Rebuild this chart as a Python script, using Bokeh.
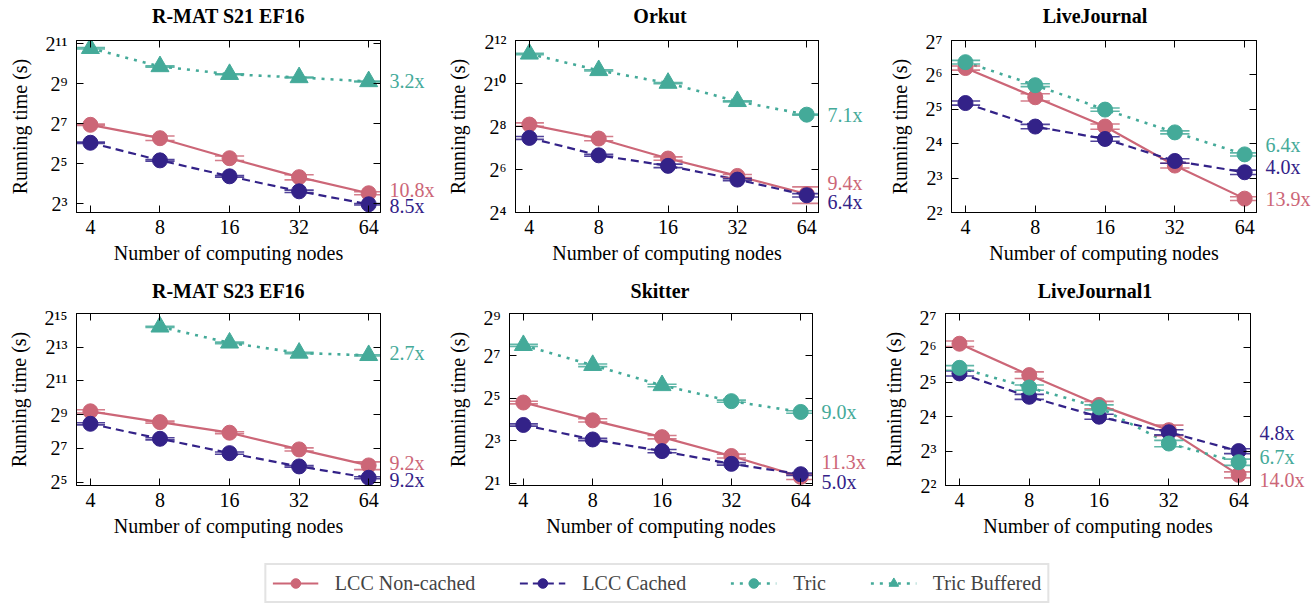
import math
from bokeh.plotting import figure
from bokeh.models import (Range1d, FixedTicker, LogAxis, Label, Legend, LegendItem,
                          CustomJSTickFormatter, ColumnDataSource)
from bokeh.layouts import column, row
from bokeh.embed import file_html
from bokeh.resources import INLINE

# ---------------------------------------------------------------- data
nodes = [4, 8, 16, 32, 64]
series_names = ["LCC Non-cached", "LCC Cached", "Tric", "Tric Buffered"]

# R-MAT S21 EF16 (running time, s)
rmat21_lcc_noncached = [123.6, 77.7, 38.8, 20.1, 11.5]
rmat21_lcc_noncached_err = [3.0, 6.0, 3.0, 1.8, 0.6]
rmat21_lcc_cached = [66.3, 36.0, 20.7, 12.3, 7.84]
rmat21_lcc_cached_err = [1.5, 1.0, 0.6, 0.5, 0.2]
rmat21_tric = [None, None, None, None, None]
rmat21_tric_err = [None, None, None, None, None]
rmat21_tric_buffered = [1758, 936, 714, 639, 556]
rmat21_tric_buffered_err = [40, 20, 10, 10, 8]
rmat21_yticks = [3, 5, 7, 9, 11]
rmat21_speedups = ["10.8x", "8.5x", "3.2x"]

# Orkut
orkut_lcc_noncached = [272.5, 173.7, 91.1, 52.0, 29.0]
orkut_lcc_noncached_err = [15, 12, 5, 2.5, 7.5]
orkut_lcc_cached = [177.3, 101.1, 72.0, 46.2, 27.9]
orkut_lcc_cached_err = [8, 3, 4, 1.5, 1.5]
orkut_tric = [None, None, None, None, 375]
orkut_tric_err = [None, None, None, None, 6]
orkut_tric_buffered = [2660, 1563, 1038, 576, None]
orkut_tric_buffered_err = [60, 30, 20, 10, None]
orkut_yticks = [4, 6, 8, 10, 12]
orkut_speedups = ["9.4x", "6.4x", "7.1x"]

# LiveJournal
lj_lcc_noncached = [73.5, 40.8, 22.6, 10.3, 5.29]
lj_lcc_noncached_err = [3, 3, 1.2, 0.5, 0.2]
lj_lcc_cached = [36.3, 22.6, 17.6, 11.3, 9.0]
lj_lcc_cached_err = [1.5, 1.0, 0.8, 0.5, 0.4]
lj_tric = [82.7, 52.0, 31.8, 20.1, 12.9]
lj_tric_err = [3, 1.5, 1.0, 0.6, 0.4]
lj_tric_buffered = [None, None, None, None, None]
lj_tric_buffered_err = [None, None, None, None, None]
lj_yticks = [2, 3, 4, 5, 6, 7]
lj_speedups = ["13.9x", "4.0x", "6.4x"]

# R-MAT S23 EF16
rmat23_lcc_noncached = [588, 377, 244, 122.8, 63.6]
rmat23_lcc_noncached_err = [40, 15, 10, 8, 10]
rmat23_lcc_cached = [352, 190, 105.4, 61.0, 38.3]
rmat23_lcc_cached_err = [15, 8, 5, 2, 1.5]
rmat23_tric = [None, None, None, None, None]
rmat23_tric_err = [None, None, None, None, None]
rmat23_tric_buffered = [None, 18950, 9810, 6470, 5870]
rmat23_tric_buffered_err = [None, 500, 300, 200, 150]
rmat23_yticks = [5, 7, 9, 11, 13, 15]
rmat23_speedups = ["9.2x", "9.2x", "2.7x"]

# Skitter
skitter_lcc_noncached = [27.9, 15.6, 9.0, 4.86, 2.46]
skitter_lcc_noncached_err = [1.2, 0.8, 0.5, 0.3, 0.2]
skitter_lcc_cached = [13.4, 8.34, 5.70, 3.76, 2.68]
skitter_lcc_cached_err = [0.5, 0.3, 0.3, 0.15, 0.1]
skitter_tric = [None, None, None, 29.2, 20.5]
skitter_tric_err = [None, None, None, 1.0, 0.8]
skitter_tric_buffered = [181, 94.3, 48.8, None, None]
skitter_tric_buffered_err = [6, 4, 2, None, None]
skitter_yticks = [1, 3, 5, 7, 9]
skitter_speedups = ["11.3x", "5.0x", "9.0x"]

# LiveJournal1
lj1_lcc_noncached = [69.6, 37.0, 20.3, 12.2, 4.96]
lj1_lcc_noncached_err = [4, 2.5, 1.5, 1.3, 0.3]
lj1_lcc_cached = [38.3, 23.9, 16.0, 11.7, 8.0]
lj1_lcc_cached_err = [2, 1.2, 0.8, 0.6, 0.4]
lj1_tric = [42.8, 28.8, 19.3, 9.32, 6.4]
lj1_tric_err = [2, 1.5, 1.0, 0.6, 0.4]
lj1_tric_buffered = [None, None, None, None, None]
lj1_tric_buffered_err = [None, None, None, None, None]
lj1_yticks = [2, 3, 4, 5, 6, 7]
lj1_speedups = ["14.0x", "4.8x", "6.7x"]

# ---------------------------------------------------------------- style
PINK, BLUE, TEAL = "#CC6677", "#332288", "#44AA99"
FONT = "Liberation Serif"
FS = "20px"
XLO, XHI = 2 ** 1.8, 2 ** 6.17
CAP = 2 ** 0.21
FH = 172          # frame height of every panel
EXT = 22          # extra room below for the speed-up labels

SUP_JS = r"""
const sup = {"0":"\u2070","1":"\u00b9","2":"\u00b2","3":"\u00b3","4":"\u2074",
             "5":"\u2075","6":"\u2076","7":"\u2077","8":"\u2078","9":"\u2079","-":"\u207b"};
const e = Math.round(Math.log(tick) / Math.LN2);
return "2" + String(e).split("").map(c => sup[c]).join("");
"""


def no_align(fig):
    if "frame_align" in fig.properties():
        fig.frame_align = False


def blank(fig):
    no_align(fig)
    fig.grid.visible = False
    fig.outline_line_color = None
    fig.background_fill_color = "white"
    fig.border_fill_color = "white"


def style_axis(ax):
    ax.axis_line_color = "black"
    ax.major_tick_line_color = "black"
    ax.major_tick_in = 7
    ax.major_tick_out = 0
    ax.minor_tick_line_color = None
    ax.major_label_text_font = FONT
    ax.major_label_text_font_size = FS
    ax.major_label_text_color = "black"
    ax.axis_label_text_font = FONT
    ax.axis_label_text_font_size = FS
    ax.axis_label_text_font_style = "normal"
    ax.axis_label_text_color = "black"


def mirror_axis(ticks):
    ax = LogAxis(ticker=FixedTicker(ticks=ticks))
    style_axis(ax)
    ax.major_label_text_font_size = "0px"
    ax.major_label_text_color = None
    ax.major_label_standoff = 0
    return ax


def add_series(p, ys, errs, color, marker, size):
    pts = [(x, y, e) for x, y, e in zip(nodes, ys, errs) if y is not None]
    if not pts:
        return
    xs = [a for a, _, _ in pts]
    vs = [b for _, b, _ in pts]
    es = [c for _, _, c in pts]
    cap_src = ColumnDataSource(dict(
        x0=[x / CAP for x in xs] * 2, x1=[x * CAP for x in xs] * 2,
        y=[v - e for v, e in zip(vs, es)] + [v + e for v, e in zip(vs, es)]))
    p.segment(x0="x0", y0="y", x1="x1", y1="y", source=cap_src,
              line_color=color, line_width=1.6, line_alpha=0.85)
    p.segment(x0=xs, y0=[v - e for v, e in zip(vs, es)], x1=xs,
              y1=[v + e for v, e in zip(vs, es)], line_color=color, line_width=1.6)
    p.scatter(xs, vs, marker=marker, size=size, fill_color=color, line_color=color)


def title_strip(title, fw, bl, sw, th, tcy):
    # strip above a panel: its frame spans exactly the panel's frame width
    t = figure(frame_width=fw, frame_height=th, min_border_left=bl, min_border_right=1 + sw,
               min_border_top=0, min_border_bottom=0,
               x_range=Range1d(0, 1), y_range=Range1d(0, th),
               x_axis_location=None, y_axis_location=None,
               output_backend="svg", toolbar_location=None, title=None)
    blank(t)
    t.add_layout(Label(x=0.5, y=th - tcy, x_units="data", y_units="data", text=title,
                       text_align="center", text_baseline="middle", text_font=FONT,
                       text_font_size=FS, text_font_style="bold", text_color="black"))
    return t


def panel(nc, nc_err, c, c_err, tr, tr_err, tb, tb_err, yticks, yexp,
          speed, nudge, fw, bl, sw, bt, bb):
    p = figure(frame_width=fw, frame_height=FH,
               min_border_left=bl, min_border_right=1, min_border_top=bt, min_border_bottom=bb,
               x_axis_type="log", y_axis_type="log",
               x_range=Range1d(XLO, XHI), y_range=Range1d(2 ** yexp[0], 2 ** yexp[1]),
               output_backend="svg", toolbar_location=None, title=None)
    no_align(p)
    p.grid.visible = False
    p.outline_line_color = "black"
    p.outline_line_width = 1
    p.background_fill_color = "white"
    p.border_fill_color = "white"

    ytk = [2 ** e for e in yticks]
    xa = p.below[0]
    ya = p.left[0]
    style_axis(xa)
    style_axis(ya)
    xa.ticker = FixedTicker(ticks=nodes)
    xa.formatter = CustomJSTickFormatter(code="return tick.toFixed(0);")
    xa.axis_label = "Number of computing nodes"
    xa.major_label_standoff = 7
    xa.axis_label_standoff = 5
    ya.ticker = FixedTicker(ticks=ytk)
    ya.formatter = CustomJSTickFormatter(code=SUP_JS)
    ya.axis_label = "Running time (s)"
    ya.major_label_standoff = 9
    ya.axis_label_standoff = 12
    p.add_layout(mirror_axis(ytk), "right")
    p.add_layout(mirror_axis(nodes), "above")

    # lines
    p.line(nodes, nc, line_color=PINK, line_width=2.2)
    p.line(nodes, c, line_color=BLUE, line_width=2.2, line_dash="8 5")
    tline = [b if b is not None else (a if a is not None else float("nan"))
             for a, b in zip(tr, tb)]
    p.line(nodes, tline, line_color=TEAL, line_width=2.6, line_dash="3 6")

    add_series(p, nc, nc_err, PINK, "circle", 15)
    add_series(p, c, c_err, BLUE, "circle", 15)
    add_series(p, tr, tr_err, TEAL, "circle", 15)
    add_series(p, tb, tb_err, TEAL, "triangle", 18)

    # side strip holding the speed-up labels (same vertical scale, extended downwards)
    span = yexp[1] - yexp[0]
    pad = EXT * span / FH
    s = figure(frame_width=sw, frame_height=FH + EXT,
               min_border_left=0, min_border_right=0,
               min_border_top=bt, min_border_bottom=bb - EXT,
               x_range=Range1d(0, 1), y_axis_type="log",
               y_range=Range1d(2 ** (yexp[0] - pad), 2 ** yexp[1]),
               x_axis_location=None, y_axis_location=None,
               output_backend="svg", toolbar_location=None, title=None)
    blank(s)
    last = [nc[-1], c[-1], [v for v in tline if v == v][-1]]
    for txt, yv, col, dy in zip(speed, last, [PINK, BLUE, TEAL], nudge):
        s.add_layout(Label(x=0, y=yv, x_units="data", y_units="data", text=txt,
                           x_offset=8, y_offset=dy, text_baseline="middle", text_align="left",
                           text_font=FONT, text_font_size=FS, text_color=col))
    return p, s


# geometry per column: frame width, left border, label strip width
COLS = [(304, 76, 62), (303, 65, 66), (305, 64, 65)]
# rows: title-strip height, title centre (from strip top), top border, bottom border
ROW1 = (30, 15, 10, 68)
ROW2 = (26, 10, 7, 65)

t1 = title_strip("R-MAT S21 EF16", *COLS[0], ROW1[0], ROW1[1])
t2 = title_strip("Orkut", *COLS[1], ROW1[0], ROW1[1])
t3 = title_strip("LiveJournal", *COLS[2], ROW1[0], ROW1[1])
t4 = title_strip("R-MAT S23 EF16", *COLS[0], ROW2[0], ROW2[1])
t5 = title_strip("Skitter", *COLS[1], ROW2[0], ROW2[1])
t6 = title_strip("LiveJournal1", *COLS[2], ROW2[0], ROW2[1])

p1, s1 = panel(rmat21_lcc_noncached, rmat21_lcc_noncached_err,
               rmat21_lcc_cached, rmat21_lcc_cached_err, rmat21_tric, rmat21_tric_err,
               rmat21_tric_buffered, rmat21_tric_buffered_err, rmat21_yticks, (2.56, 11.17),
               rmat21_speedups, [3, -2, 0], *COLS[0], ROW1[2], ROW1[3])
p2, s2 = panel(orkut_lcc_noncached, orkut_lcc_noncached_err,
               orkut_lcc_cached, orkut_lcc_cached_err, orkut_tric, orkut_tric_err,
               orkut_tric_buffered, orkut_tric_buffered_err, orkut_yticks, (4.0, 12.0),
               orkut_speedups, [11, -7, 0], *COLS[1], ROW1[2], ROW1[3])
p3, s3 = panel(lj_lcc_noncached, lj_lcc_noncached_err,
               lj_lcc_cached, lj_lcc_cached_err, lj_tric, lj_tric_err,
               lj_tric_buffered, lj_tric_buffered_err, lj_yticks, (2.0, 7.0),
               lj_speedups, [0, 5, 9], *COLS[2], ROW1[2], ROW1[3])
p4, s4 = panel(rmat23_lcc_noncached, rmat23_lcc_noncached_err,
               rmat23_lcc_cached, rmat23_lcc_cached_err, rmat23_tric, rmat23_tric_err,
               rmat23_tric_buffered, rmat23_tric_buffered_err, rmat23_yticks, (4.8, 15.0),
               rmat23_speedups, [2, -2, 2], *COLS[0], ROW2[2], ROW2[3])
p5, s5 = panel(skitter_lcc_noncached, skitter_lcc_noncached_err,
               skitter_lcc_cached, skitter_lcc_cached_err, skitter_tric, skitter_tric_err,
               skitter_tric_buffered, skitter_tric_buffered_err, skitter_yticks, (0.89, 9.0),
               skitter_speedups, [15, -8, 0], *COLS[1], ROW2[2], ROW2[3])
p6, s6 = panel(lj1_lcc_noncached, lj1_lcc_noncached_err,
               lj1_lcc_cached, lj1_lcc_cached_err, lj1_tric, lj1_tric_err,
               lj1_tric_buffered, lj1_tric_buffered_err, lj1_yticks, (2.0, 7.0),
               lj1_speedups, [-5, 18, 5], *COLS[2], ROW2[2], ROW2[3])

# ---------------------------------------------------------------- legend
lf = figure(width=1313, height=58, output_backend="svg", toolbar_location=None,
            x_range=Range1d(0, 1), y_range=Range1d(0, 1), min_border=0,
            x_axis_location=None, y_axis_location=None, title=None)
blank(lf)
specs = [(PINK, None, "circle", 15, 2.2), (BLUE, "8 5", "circle", 15, 2.2),
         (TEAL, "3 6", "circle", 15, 2.6), (TEAL, "3 6", "triangle", 18, 2.6)]
items = []
for name, (col, dash, mk, sz, lw) in zip(series_names, specs):
    kw = dict(line_color=col, line_width=lw)
    if dash:
        kw["line_dash"] = dash
    # the legend strip's range (0..1) lies outside these data, so only the legend swatch shows
    rl = lf.line(x=nodes, y=rmat21_lcc_noncached, **kw)
    rm = lf.scatter(x=nodes, y=rmat21_lcc_noncached, marker=mk, size=sz,
                    fill_color=col, line_color=col)
    items.append(LegendItem(label=name, renderers=[rl, rm]))
leg = Legend(items=items, orientation="horizontal", location="bottom_center",
             label_text_font=FONT, label_text_font_size=FS, glyph_width=46, glyph_height=24,
             label_standoff=17, spacing=44, padding=6, margin=5,
             border_line_color="#c8c8c8", border_line_width=2, background_fill_alpha=1)
lf.add_layout(leg, "center")

layout = column(row(t1, t2, t3), row(p1, s1, p2, s2, p3, s3),
                row(t4, t5, t6), row(p4, s4, p5, s5, p6, s6), lf)
open("out.html", "w", encoding="utf-8").write(file_html(layout, INLINE))
